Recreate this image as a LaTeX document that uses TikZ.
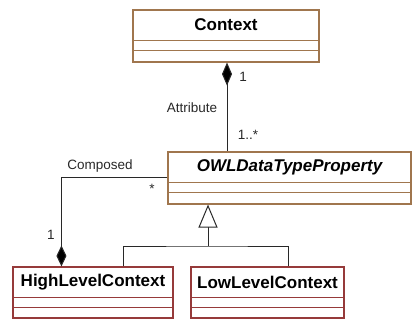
\documentclass[tikz,border=0pt]{standalone}
\usepackage{fontspec}
\setmainfont{Liberation Sans}
\usetikzlibrary{arrows.meta,calc}
\definecolor{brownb}{RGB}{160,118,78}
\definecolor{redb}{RGB}{150,58,58}
\definecolor{linec}{RGB}{40,40,40}
\tikzset{
  clsbox/.style={draw=#1, line width=1.1pt, inner sep=0pt},
  ttl/.style={font=\fontsize{17}{20}\selectfont\bfseries, inner sep=0pt, anchor=center},
  lbl/.style={font=\fontsize{13.5}{16}\selectfont, text=linec, inner sep=0pt},
  conn/.style={draw=linec, line width=1pt},
}
\begin{document}
\begin{tikzpicture}[x=1pt,y=-1pt]
\useasboundingbox (0,0) rectangle (414,320);
% classes
\node[clsbox=brownb, minimum width=186pt, minimum height=52pt] (ctx) at (226,36) {};
\node[clsbox=brownb, minimum width=243pt, minimum height=52pt] (owl) at (289.5,178) {};
\node[clsbox=redb, minimum width=160pt, minimum height=51pt] (high) at (93,292.5) {};
\node[clsbox=redb, minimum width=153pt, minimum height=51pt] (low) at (267.5,292.5) {};
% titles
\node[ttl] (ctxt) at ($(ctx.north)+(0,15.5)$) {Context};
\node[ttl] (owlt) at ($(owl.north)+(0,15.5)$) {\itshape OWLDataTypeProperty};
\node[ttl] (hight) at ($(high.north)+(0,15.5)$) {HighLevelContext};
\node[ttl] (lowt) at ($(low.north)+(0,15.5)$) {LowLevelContext};
% dividers
\foreach \n/\c in {ctx/brownb,owl/brownb,high/redb,low/redb}{
  \draw[\c, line width=1.1pt] ($(\n.north west)+(0,31)$) -- ($(\n.north east)+(0,31)$);
  \draw[\c, line width=1.1pt] ($(\n.north west)+(0,41)$) -- ($(\n.north east)+(0,41)$);
}
% composition Context - OWL
\coordinate (ca) at ($(ctx.south)+(1,0)$);
\coordinate (cb) at (ca |- owl.north);
\draw[conn, {Diamond[length=23pt,width=10pt,fill=black]}-] (ca) -- (cb);
\node[lbl] (l1) at (243,77) {1};
\node[lbl] (lattr) at (192,108) {Attribute};
\node[lbl] (lmany) at (248,135) {1..*};
% composition HighLevel - OWL
\coordinate (hc) at ($(high.north west)+(49,0)$);
\draw[conn, -{Diamond[length=21pt,width=10pt,fill=black]}] (owl.west) -| (hc);
\node[lbl] (lcomp) at (100,166) {Composed};
\node[lbl] (lstar) at (152,189) {*};
\node[lbl] (lone) at (51,235) {1};
% generalization
\coordinate (j) at (208,246);
\coordinate (jt) at (j |- owl.south);
\coordinate (hg) at ($(high.north west)+(111,0)$);
\coordinate (lg) at ($(low.north west)+(98,0)$);
\draw[conn, -{Triangle[open,length=23pt,width=19pt,fill=white]}] (j) -- (jt);
\draw[conn] (hg) |- (j) -| (lg);
\end{tikzpicture}
\end{document}
